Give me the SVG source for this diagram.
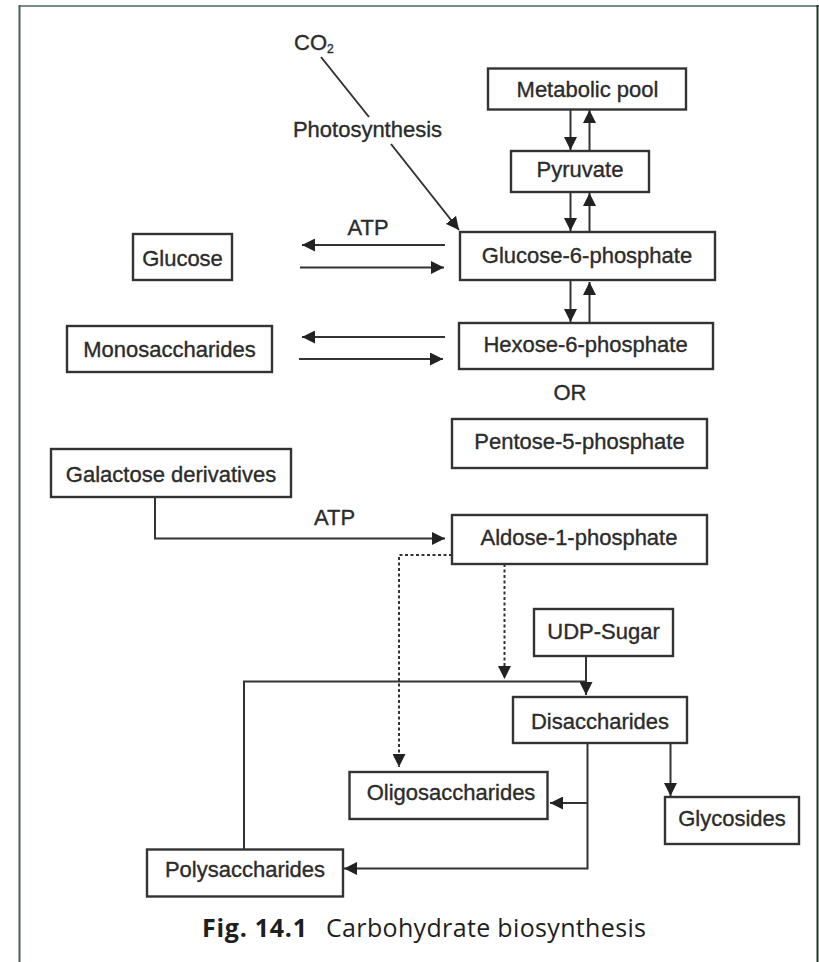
<svg xmlns="http://www.w3.org/2000/svg" width="819" height="962" viewBox="0 0 819 962">
  <style>
    .box { fill: #ffffff; stroke: #333333; stroke-width: 2.4; }
    .lbl { font-family: "Liberation Sans", Arial, sans-serif; font-size: 22px; fill: #2b2b2b; stroke: #2b2b2b; stroke-width: 0.35; text-anchor: middle; }
    .ln { fill: none; stroke: #333333; stroke-width: 2; }
    .arr { fill: none; stroke: #333333; stroke-width: 2; marker-end: url(#ah); }
    .dash { fill: none; stroke: #333333; stroke-width: 2; stroke-dasharray: 3 2.5; }
    .dasharr { fill: none; stroke: #333333; stroke-width: 2; stroke-dasharray: 3 2.5; marker-end: url(#ah); }
    .cap { font-family: "Open Sans", "Noto Sans", sans-serif; font-size: 25px; fill: #1e1e1e; }
  </style>
  <defs>
    <marker id="ah" markerUnits="userSpaceOnUse" markerWidth="14" markerHeight="13" refX="13" refY="6.5" orient="auto">
      <path d="M0,0 L13,6.5 L0,13 z" fill="#222222"/>
    </marker>
  </defs>
  <rect x="0" y="0" width="819" height="962" fill="#ffffff"/>
  <!-- frame -->
  <g id="frame">
    <line x1="19" y1="6" x2="819" y2="6" stroke="#7d8c84" stroke-width="2"/>
    <line x1="19.5" y1="5" x2="19.5" y2="962" stroke="#4a5f55" stroke-width="2"/>
    <line x1="817.5" y1="5" x2="817.5" y2="962" stroke="#1c3626" stroke-width="2"/>
  </g>

  <!-- connectors -->
  <g id="connectors">
    <line class="ln" x1="321" y1="57" x2="369" y2="117"/>
    <line class="arr" x1="391" y1="144" x2="459" y2="230"/>

    <line class="arr" x1="570.5" y1="109" x2="570.5" y2="150"/>
    <line class="arr" x1="589.5" y1="151" x2="589.5" y2="110"/>
    <line class="arr" x1="570.5" y1="192" x2="570.5" y2="231"/>
    <line class="arr" x1="589.5" y1="232" x2="589.5" y2="193"/>
    <line class="arr" x1="570.5" y1="280" x2="570.5" y2="322"/>
    <line class="arr" x1="589.5" y1="323" x2="589.5" y2="282"/>

    <line class="arr" x1="445" y1="245" x2="302" y2="245"/>
    <line class="arr" x1="300" y1="267.5" x2="444" y2="267.5"/>
    <line class="arr" x1="445" y1="337" x2="302" y2="337"/>
    <line class="arr" x1="299" y1="359" x2="443" y2="359"/>

    <path class="arr" d="M155,497 V538.5 H445"/>

    <path class="dasharr" d="M452,555 H399 V767"/>
    <path class="dasharr" d="M504.5,564 V679"/>

    <path class="ln" d="M244,850 V681.5 H586"/>
    <line class="arr" x1="586" y1="656" x2="586" y2="695"/>

    <path class="arr" d="M587.5,743 V868.5 H344"/>
    <line class="arr" x1="587.5" y1="803" x2="550" y2="803"/>
    <line class="arr" x1="670.5" y1="743" x2="670.5" y2="796"/>
  </g>

  <!-- edge labels -->
  <g id="labels">
    <text class="lbl" x="294" y="50" style="text-anchor:start">CO<tspan font-size="12" dy="3">2</tspan></text>
    <text class="lbl" x="367.5" y="137">Photosynthesis</text>
    <text class="lbl" x="368" y="235">ATP</text>
    <text class="lbl" x="334.5" y="525">ATP</text>
    <text class="lbl" x="570" y="400">OR</text>
  </g>

  <!-- nodes -->
  <g id="metabolic-pool">
    <rect class="box" x="488" y="68.5" width="198" height="41"/>
    <text class="lbl" x="587.5" y="97">Metabolic pool</text>
  </g>
  <g id="pyruvate">
    <rect class="box" x="511" y="151" width="138" height="41"/>
    <text class="lbl" x="580" y="177">Pyruvate</text>
  </g>
  <g id="glucose-6-phosphate">
    <rect class="box" x="460" y="232" width="255" height="48"/>
    <text class="lbl" x="587" y="263">Glucose-6-phosphate</text>
  </g>
  <g id="glucose">
    <rect class="box" x="133" y="234" width="99" height="46"/>
    <text class="lbl" x="182.5" y="265.5">Glucose</text>
  </g>
  <g id="monosaccharides">
    <rect class="box" x="67" y="326" width="205" height="46"/>
    <text class="lbl" x="169.5" y="357">Monosaccharides</text>
  </g>
  <g id="hexose-6-phosphate">
    <rect class="box" x="459" y="323" width="254" height="46"/>
    <text class="lbl" x="585.5" y="351.5">Hexose-6-phosphate</text>
  </g>
  <g id="pentose-5-phosphate">
    <rect class="box" x="452" y="419" width="255" height="49"/>
    <text class="lbl" x="579.5" y="448.5">Pentose-5-phosphate</text>
  </g>
  <g id="galactose-derivatives">
    <rect class="box" x="51" y="449" width="240" height="48"/>
    <text class="lbl" x="171" y="481.5">Galactose derivatives</text>
  </g>
  <g id="aldose-1-phosphate">
    <rect class="box" x="452" y="515" width="255" height="49"/>
    <text class="lbl" x="579" y="545">Aldose-1-phosphate</text>
  </g>
  <g id="udp-sugar">
    <rect class="box" x="534" y="609" width="139" height="47"/>
    <text class="lbl" x="603.5" y="638.5">UDP-Sugar</text>
  </g>
  <g id="disaccharides">
    <rect class="box" x="513" y="697" width="174" height="46"/>
    <text class="lbl" x="600" y="728.5">Disaccharides</text>
  </g>
  <g id="oligosaccharides">
    <rect class="box" x="349.5" y="772" width="198" height="47"/>
    <text class="lbl" x="451" y="800">Oligosaccharides</text>
  </g>
  <g id="glycosides">
    <rect class="box" x="665" y="797" width="134" height="47"/>
    <text class="lbl" x="732" y="826">Glycosides</text>
  </g>
  <g id="polysaccharides">
    <rect class="box" x="147" y="849.5" width="196" height="47"/>
    <text class="lbl" x="245" y="877">Polysaccharides</text>
  </g>

  <!-- caption -->
  <g id="caption">
    <text class="cap" x="202" y="937" font-weight="bold" textLength="105">Fig. 14.1</text>
    <text class="cap" x="326" y="937" textLength="320">Carbohydrate biosynthesis</text>
  </g>
</svg>
